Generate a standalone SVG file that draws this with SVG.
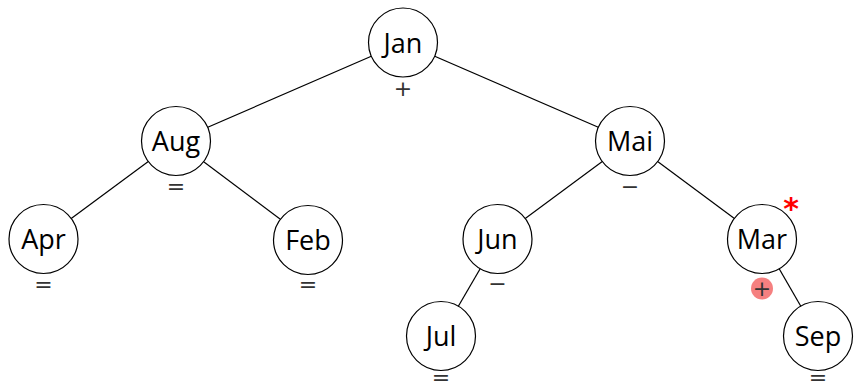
<svg xmlns="http://www.w3.org/2000/svg" width="854" height="387" viewBox="0 0 854 387">
<style>
.n circle{fill:#fff;stroke:#000;stroke-width:1.2}
.n text.l{font-family:"Open Sans","DejaVu Sans",sans-serif;font-size:27px;text-anchor:middle;fill:#000}
text.b{font-family:"DejaVu Sans",sans-serif;font-size:22px;text-anchor:middle;fill:#333}
#edges line{stroke:#000;stroke-width:1.2}
</style>
<rect width="854" height="387" fill="#fff"/>
<g id="edges">
<line x1="403" y1="42.5" x2="176" y2="141"/>
<line x1="403" y1="42.5" x2="630" y2="141"/>
<line x1="176" y1="141" x2="43.5" y2="239"/>
<line x1="176" y1="141" x2="308" y2="240"/>
<line x1="630" y1="141" x2="497.5" y2="239"/>
<line x1="630" y1="141" x2="762" y2="239"/>
<line x1="497.5" y1="239" x2="441" y2="336"/>
<line x1="762" y1="239" x2="818" y2="336"/>
</g>
<g id="jan" class="n"><circle cx="403" cy="42.5" r="34.5"/><text class="l" x="403" y="52.5">Jan</text><text class="b" x="403" y="96">+</text></g>
<g id="aug" class="n"><circle cx="176" cy="141" r="34.5"/><text class="l" x="176" y="151">Aug</text><text class="b" x="176" y="194">=</text></g>
<g id="mai" class="n"><circle cx="630" cy="141" r="34.5"/><text class="l" x="630" y="151">Mai</text><text class="b" x="630" y="194">−</text></g>
<g id="apr" class="n"><circle cx="43.5" cy="239" r="34.5"/><text class="l" x="43.5" y="249">Apr</text><text class="b" x="43.5" y="292">=</text></g>
<g id="feb" class="n"><circle cx="308" cy="240" r="34.5"/><text class="l" x="308" y="250">Feb</text><text class="b" x="308" y="292">=</text></g>
<g id="jun" class="n"><circle cx="497.5" cy="239" r="34.5"/><text class="l" x="497.5" y="249">Jun</text><text class="b" x="497.5" y="291">−</text></g>
<g id="mar" class="n"><circle cx="762" cy="239" r="34.5"/><text class="l" x="762" y="249">Mar</text>
<circle cx="762" cy="288.5" r="11" style="fill:#f58080;stroke:none"/><text class="b" x="762" y="296">+</text>
<text x="791" y="219" style="font-family:'DejaVu Sans',sans-serif;font-size:30px;font-weight:bold;fill:#f00;text-anchor:middle">*</text></g>
<g id="jul" class="n"><circle cx="441" cy="336" r="34.5"/><text class="l" x="441" y="346">Jul</text><text class="b" x="441" y="385">=</text></g>
<g id="sep" class="n"><circle cx="818" cy="336" r="34.5"/><text class="l" x="818" y="346">Sep</text><text class="b" x="818" y="385">=</text></g>
</svg>
